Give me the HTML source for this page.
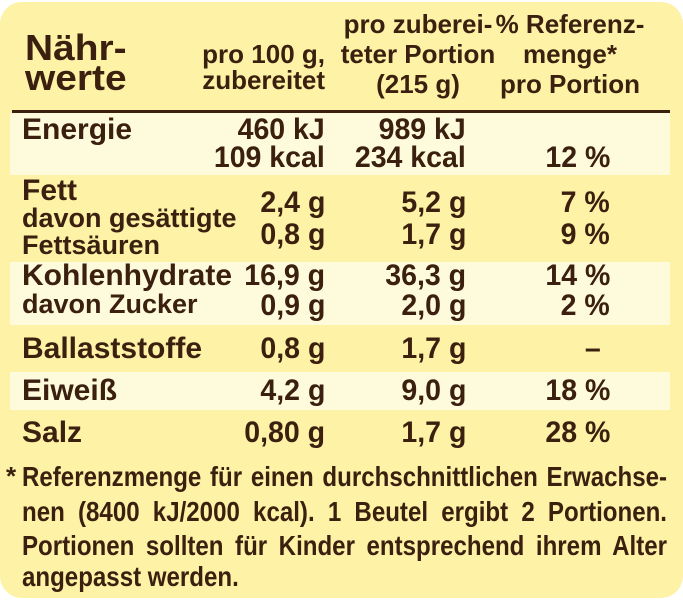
<!DOCTYPE html>
<html><head><meta charset="utf-8"><style>
html,body{margin:0;padding:0;background:#fff}
#c{position:relative;width:683px;height:600px;overflow:hidden;background:#fff}
#bg{position:absolute;left:0;top:2px;width:683px;height:596px;background:#fdf2a6;border-radius:22px}
.band{position:absolute;left:10px;width:660px;background:#fefbdd}
.t{position:absolute;font-family:"Liberation Sans",sans-serif;font-weight:bold;color:#3b200f;white-space:nowrap;line-height:1}
.l{transform-origin:left center;transform:scaleX(1.0)}
.r{transform-origin:right center;transform:scaleX(.95)}
.m{transform:translateX(-50%) scaleX(1.0)}
.fn{position:absolute;left:22px;width:750px;font-family:"Liberation Sans",sans-serif;font-weight:bold;color:#3b200f;font-size:28px;line-height:1;transform-origin:left center;transform:scaleX(.86);text-align:justify;text-align-last:justify;white-space:nowrap}
</style></head><body>
<div id="c">
<div id="bg"></div>
<div class="band" style="top:113px;height:62px"></div>
<div class="band" style="top:262px;height:63px"></div>
<div class="band" style="top:372px;height:38px"></div>
<div style="position:absolute;left:12px;top:110px;width:658px;height:3px;background:#3b200f"></div>

<div class="t l" style="left:25px;top:30px;font-size:36px;transform:scaleX(1.08)">Nähr-</div>
<div class="t l" style="left:25px;top:60px;font-size:36px;transform:scaleX(1.08)">werte</div>
<div class="t r" style="right:358px;top:41px;font-size:26px;transform:scaleX(1.0)">pro 100 g,</div>
<div class="t r" style="right:358px;top:67px;font-size:26px;transform:scaleX(1.0)">zubereitet</div>
<div class="t m" style="left:418px;top:11px;font-size:26px">pro zuberei-</div>
<div class="t m" style="left:418px;top:41px;font-size:26px">teter Portion</div>
<div class="t m" style="left:418px;top:71px;font-size:26px">(215 g)</div>
<div class="t m" style="left:570px;top:11px;font-size:26px">% Referenz-</div>
<div class="t m" style="left:570px;top:41px;font-size:26px">menge*</div>
<div class="t m" style="left:570px;top:71px;font-size:26px">pro Portion</div>

<div class="t l" style="left:22px;top:115px;font-size:30px">Energie</div>
<div class="t r" style="right:358px;top:115px;font-size:30px">460 kJ</div>
<div class="t r" style="right:358px;top:143px;font-size:30px">109 kcal</div>
<div class="t r" style="right:217px;top:115px;font-size:30px">989 kJ</div>
<div class="t r" style="right:217px;top:143px;font-size:30px">234 kcal</div>
<div class="t r" style="right:73px;top:143px;font-size:30px">12 %</div>

<div class="t l" style="left:22px;top:176px;font-size:30px">Fett</div>
<div class="t l" style="left:22px;top:205px;font-size:27px">davon gesättigte</div>
<div class="t l" style="left:22px;top:232px;font-size:27px">Fettsäuren</div>
<div class="t r" style="right:358px;top:188px;font-size:30px">2,4 g</div>
<div class="t r" style="right:358px;top:220px;font-size:30px">0,8 g</div>
<div class="t r" style="right:217px;top:188px;font-size:30px">5,2 g</div>
<div class="t r" style="right:217px;top:220px;font-size:30px">1,7 g</div>
<div class="t r" style="right:73px;top:188px;font-size:30px">7 %</div>
<div class="t r" style="right:73px;top:220px;font-size:30px">9 %</div>

<div class="t l" style="left:22px;top:261px;font-size:30px">Kohlenhydrate</div>
<div class="t l" style="left:22px;top:291px;font-size:27px">davon Zucker</div>
<div class="t r" style="right:358px;top:261px;font-size:30px">16,9 g</div>
<div class="t r" style="right:358px;top:291px;font-size:30px">0,9 g</div>
<div class="t r" style="right:217px;top:261px;font-size:30px">36,3 g</div>
<div class="t r" style="right:217px;top:291px;font-size:30px">2,0 g</div>
<div class="t r" style="right:73px;top:261px;font-size:30px">14 %</div>
<div class="t r" style="right:73px;top:291px;font-size:30px">2 %</div>

<div class="t l" style="left:22px;top:334px;font-size:30px">Ballaststoffe</div>
<div class="t r" style="right:358px;top:334px;font-size:30px">0,8 g</div>
<div class="t r" style="right:217px;top:334px;font-size:30px">1,7 g</div>
<div class="t r" style="right:82px;top:334px;font-size:30px">–</div>

<div class="t l" style="left:22px;top:376px;font-size:30px">Eiweiß</div>
<div class="t r" style="right:358px;top:376px;font-size:30px">4,2 g</div>
<div class="t r" style="right:217px;top:376px;font-size:30px">9,0 g</div>
<div class="t r" style="right:73px;top:376px;font-size:30px">18 %</div>

<div class="t l" style="left:22px;top:418px;font-size:30px">Salz</div>
<div class="t r" style="right:358px;top:418px;font-size:30px">0,80 g</div>
<div class="t r" style="right:217px;top:418px;font-size:30px">1,7 g</div>
<div class="t r" style="right:73px;top:418px;font-size:30px">28 %</div>

<div class="t" style="left:6px;top:463px;font-size:26px">*</div>
<div class="fn" style="top:463px">Referenzmenge für einen durchschnittlichen Erwachse-</div>
<div class="fn" style="top:498px">nen (8400 kJ/2000 kcal). 1 Beutel ergibt 2 Portionen.</div>
<div class="fn" style="top:532px">Portionen sollten für Kinder entsprechend ihrem Alter</div>
<div class="fn" style="top:563px;text-align:left;text-align-last:left">angepasst werden.</div>
</div>
</body></html>
